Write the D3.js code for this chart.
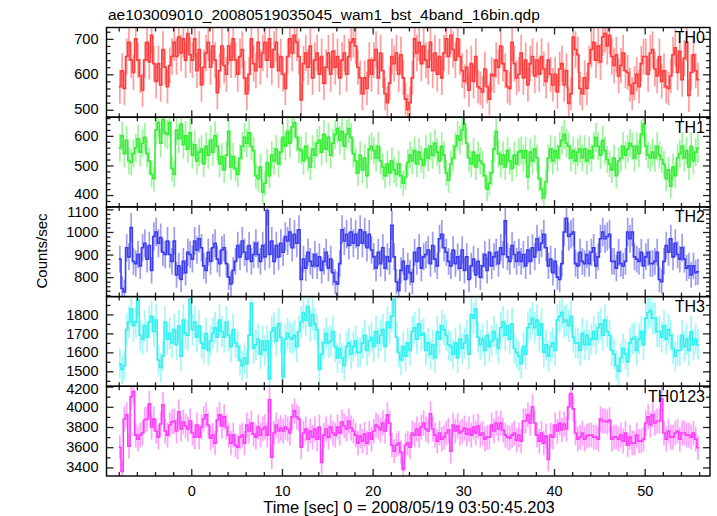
<!DOCTYPE html>
<html>
<head>
<meta charset="utf-8">
<script src="https://cdn.jsdelivr.net/npm/d3@7"></script>
<style>
  html, body { margin: 0; padding: 0; background: #fff; }
  svg { display: block; }
  text { font-family: "Liberation Sans", Arial, Helvetica, sans-serif; }
</style>
</head>
<body>
<svg id="chart" width="717" height="516"></svg>
<script>
// ---------------- DATA ----------------
const title = "ae103009010_20080519035045_wam1_bst_4band_16bin.qdp";
const xLabel = "Time [sec] 0 = 2008/05/19 03:50:45.203";
const yLabel = "Counts/sec";
const binSize = 0.25;      // s
const tStart = -8;         // s, start of first bin
const panelNames = ["TH0", "TH1", "TH2", "TH3", "TH0123"];
const xTicks = [0, 10, 20, 30, 40, 50];

const th0 = [
  565,610,560,650,690,640,605,700, 640,595,555,640,690,635,710,630,
  580,630,570,670,620,565,625,650, 690,650,705,660,700,640,715,655,
  640,700,610,670,570,620,660,690, 620,680,640,548,610,680,625,600,
  680,640,700,640,600,650,670,590, 545,600,700,630,610,690,620,660,
  690,640,700,620,670,690,610,650, 600,560,650,700,660,710,690,650,
  528,630,660,620,680,590,640,660, 600,650,575,620,660,600,665,620,
  650,590,640,660,600,650,690,700, 680,620,590,545,590,560,640,600,
  640,670,590,660,610,545,520,575, 650,630,660,600,655,590,530,500,
  520,590,700,660,690,630,680,640, 620,690,610,660,600,650,590,660,
  700,650,710,670,640,700,650,610, 580,620,555,630,580,650,565,560,
  550,615,565,530,600,595,640,620, 680,630,610,565,560,690,630,590,
  600,660,590,640,570,630,650,595, 640,600,650,615,580,640,600,570,
  600,550,615,630,570,610,518,545, 705,670,655,560,545,590,560,630,
  670,690,640,680,635,705,715,680, 710,650,625,655,595,625,660,610,
  605,570,545,575,600,565,630,650, 650,600,660,670,615,595,650,580,
  610,565,560,595,655,675,605,665, 585,645,690,540,605,655,610,585
];
const th1 = [
  560,600,540,585,515,510,540,560, 590,545,575,595,540,515,470,455,
  620,645,575,655,610,605,645,490, 470,620,590,640,570,600,555,610,
  535,570,515,545,555,505,565,535, 585,545,600,565,505,530,485,535,
  615,495,530,490,470,525,565,595, 575,610,565,550,465,455,495,410,
  440,510,465,535,515,555,505,545, 595,565,615,575,630,645,595,555,
  550,515,565,525,495,555,535,575, 585,545,605,555,595,535,575,605,
  625,585,615,565,605,625,595,540, 515,475,535,485,525,465,555,565,
  550,525,565,515,495,465,505,475, 515,485,470,505,465,440,460,510,
  535,515,550,505,545,520,500,555, 525,565,535,575,545,515,565,535,
  475,450,505,525,565,600,585,620, 640,575,525,505,545,495,535,515,
  505,465,420,440,475,555,615,540, 505,535,495,550,515,490,535,505,
  545,550,525,550,460,545,515,555, 525,455,420,390,445,525,555,515,
  550,525,565,585,605,575,565,525, 550,515,545,555,525,555,515,550,
  525,565,595,565,535,585,550,520, 505,485,525,465,515,525,565,535,
  555,575,565,525,565,540,605,640, 565,535,525,545,525,565,535,520,
  505,455,485,430,495,465,525,540, 565,525,550,495,565,515,545,558
];
const th2 = [
  880,750,735,930,890,1020,870,860, 900,850,930,950,880,940,830,980,
  1000,950,975,910,900,960,900,870, 960,810,850,790,870,820,910,900,
  880,960,920,970,930,850,830,910, 870,930,950,880,860,920,930,860,
  800,770,830,870,940,890,960,910, 880,940,870,900,950,900,870,940,
  890,1095,900,960,870,940,890,950, 910,980,960,1000,930,990,950,1010,
  790,880,840,910,870,850,900,850, 890,830,870,910,840,880,820,780,
  770,860,1010,960,990,940,1000,950, 990,940,1010,950,1000,930,990,920,
  890,840,910,860,930,840,890,870, 1030,890,780,740,830,870,790,850,
  820,780,910,870,930,840,890,900, 920,860,940,880,850,970,990,930,
  910,870,850,920,860,890,840,920, 830,890,790,850,880,810,870,800,
  850,900,830,910,850,890,910,860, 930,900,1050,890,870,940,900,870,
  910,870,900,850,920,870,930,890, 970,920,950,990,930,850,880,820,
  870,800,790,860,1000,1060,980,990, 1000,860,850,910,870,860,900,860,
  910,930,850,890,970,1000,970,980, 990,870,870,840,910,860,850,870,
  1000,970,1000,890,880,870,910,850, 890,910,860,860,870,910,790,780,
  870,940,910,970,890,950,900,880, 930,880,840,850,810,850,820,824
];
const th3 = [
  1540,1510,1530,1720,1760,1830,1740,1760, 1880,1690,1670,1740,1680,1760,1790,1710,
  1770,1560,1520,1580,1760,1670,1700,1650, 1720,1640,1740,1580,1770,1700,1690,1880,
  1720,1760,1680,1740,1650,1620,1700,1610, 1660,1700,1730,1680,1770,1710,1680,1760,
  1690,1630,1720,1650,1630,1560,1530,1570, 1540,1690,1860,1620,1640,1670,1590,1660,
  1610,1660,1460,1710,1730,1660,1750,1680, 1470,1670,1700,1680,1670,1690,1630,1710,
  1760,1810,1770,1840,1740,1800,1750,1720, 1510,1590,1650,1700,1650,1660,1710,1630,
  1570,1620,1570,1530,1630,1650,1590,1630, 1660,1600,1600,1650,1690,1610,1660,1680,
  1630,1710,1650,1690,1720,1630,1760,1730, 1790,1880,1680,1600,1560,1630,1580,1650,
  1610,1710,1730,1670,1750,1690,1700,1610, 1650,1590,1640,1570,1710,1670,1740,1720,
  1690,1640,1630,1590,1650,1570,1670,1620, 1650,1690,1590,1800,1780,1830,1680,1640,
  1670,1610,1690,1630,1660,1710,1670,1620, 1730,1760,1690,1740,1670,1750,1620,1600,
  1580,1540,1630,1590,1730,1750,1780,1730, 1770,1690,1750,1600,1640,1580,1630,1650,
  1610,1770,1790,1810,1760,1770,1740,1790, 1680,1650,1650,1610,1700,1640,1690,1640,
  1670,1710,1670,1730,1750,1690,1770,1710, 1690,1610,1590,1530,1500,1570,1620,1590,
  1550,1650,1670,1680,1610,1670,1710,1640, 1780,1810,1820,1780,1780,1710,1710,1680,
  1740,1670,1720,1690,1620,1580,1610,1610, 1690,1630,1670,1610,1710,1640,1670,1640
];
const th0123 = [
  3600,3360,3880,3920,3610,4100,4150,3720, 3680,3720,3740,3870,3880,4030,3800,3880,
  3760,3700,3830,4020,3760,3720,3820,3850, 3860,3760,3950,3780,3850,3810,3780,3860,
  3740,3700,3820,3700,3800,3880,3920,3820, 3690,3720,3640,3870,3920,3810,3900,3800,
  3720,3640,3720,3620,3600,3700,3720,3640, 3820,3760,3840,3730,3700,3800,3720,3780,
  3800,3720,4070,3500,3740,3820,3760,3790, 3760,3800,3780,3740,3900,3960,3900,3880,
  3600,3740,3780,3680,3760,3700,3780,3680, 3800,3450,3720,3780,3700,3800,3740,3720,
  3800,3740,3850,3810,3780,3860,3790,3760, 3720,3640,3710,3660,3730,3640,3740,3680,
  3760,3820,3800,3770,3840,3760,3920,3840, 3620,3560,3620,3640,3550,3380,3620,3640,
  3600,3740,3720,3780,3720,3800,3840,3780, 3760,3930,3780,3720,3660,3740,3680,3700,
  3740,3770,3560,3820,3760,3810,3740,3760, 3790,3730,3780,3720,3800,3740,3810,3720,
  3740,3680,3700,3700,3820,3760,3840,3780, 3840,3770,3720,3700,3690,3720,3740,3670,
  3720,3660,3860,3860,3920,3840,4000,3840, 3720,3660,3740,3640,3710,3480,3720,3700,
  3820,3760,3840,3770,3830,3780,4000,4130, 3980,3740,3680,3700,3740,3680,3710,3720,
  3720,3700,3700,3680,3880,3860,3860,3850, 3870,3680,3700,3700,3680,3720,3660,3740,
  3620,3700,3640,3640,3720,3660,3660,3680, 3840,3900,3820,3920,3840,3860,3860,4080,
  3740,3680,3760,3700,3700,3740,3760,3680, 3740,3740,3720,3720,3700,3740,3680,3595
];

const th0Ticks = [500, 600, 700];
const th1Ticks = [400, 500, 600];
const th2Ticks = [800, 900, 1000, 1100];
const th3Ticks = [1500, 1600, 1700, 1800];
const th0123Ticks = [3400, 3600, 3800, 4000, 4200];

// ---------------- LAYOUT / STYLE ----------------
const L = 106.5, R = 710, T = 27.5, B = 476;
const PH = (B - T) / 5;

const panels = [
  { name: panelNames[0], values: th0,    ticks: th0Ticks,    minor: 20,  domain: [479, 732],   color: "#ff3b3b", light: "#ff9c9c" },
  { name: panelNames[1], values: th1,    ticks: th1Ticks,    minor: 20,  domain: [360, 663],   color: "#33ee33", light: "#9cf59c" },
  { name: panelNames[2], values: th2,    ticks: th2Ticks,    minor: 20,  domain: [714, 1111],  color: "#3b3bf0", light: "#9c9cf2" },
  { name: panelNames[3], values: th3,    ticks: th3Ticks,    minor: 50,  domain: [1421, 1894], color: "#33f0f0", light: "#a0f7f7" },
  { name: panelNames[4], values: th0123, ticks: th0123Ticks, minor: 100, domain: [3315, 4203], color: "#ff3bff", light: "#ffa0ff" }
];

const svg = d3.select("#chart");
const x = d3.scaleLinear().domain([-9.35, 57.2]).range([L, R]);
const xMinor = d3.range(-8, 57, 2).filter(v => !xTicks.includes(v));

// title
svg.append("text").attr("x", 108).attr("y", 19.5)
  .attr("font-size", 15.5).attr("fill", "#000").text(title);

panels.forEach((p, i) => {
  const y0 = T + i * PH;
  const y = d3.scaleLinear().domain(p.domain).range([y0 + PH, y0]);
  const g = svg.append("g");
  const clipId = "clip" + i;
  svg.append("clipPath").attr("id", clipId)
    .append("rect").attr("x", L).attr("y", y0).attr("width", R - L).attr("height", PH);

  const data = p.values.map((v, k) => ({
    t: tStart + binSize * (k + 0.5),
    v: v,
    e: Math.sqrt(v * binSize) / binSize
  }));

  const plot = g.append("g").attr("clip-path", `url(#${clipId})`);
  // error bars
  plot.selectAll("line.err").data(data).join("line")
    .attr("class", "err")
    .attr("x1", d => x(d.t)).attr("x2", d => x(d.t))
    .attr("y1", d => y(d.v - d.e)).attr("y2", d => y(d.v + d.e))
    .attr("stroke", p.light).attr("stroke-width", 1.7);

  // step line
  const pts = [[tStart, data[0].v]].concat(data.map(d => [d.t, d.v]))
    .concat([[tStart + binSize * data.length, data[data.length - 1].v]]);
  const line = d3.line().x(d => x(d[0])).y(d => y(d[1])).curve(d3.curveStep);
  plot.append("path").attr("d", line(pts))
    .attr("fill", "none").attr("stroke", p.color).attr("stroke-width", 1.6);

  // axes
  const minorY = d3.range(Math.ceil(p.domain[0] / p.minor) * p.minor, p.domain[1], p.minor)
    .filter(v => !p.ticks.includes(v));
  const styleAxis = sel => {
    sel.select(".domain").remove();
    sel.selectAll(".tick line").attr("stroke", "#222").attr("stroke-width", 1.3);
    sel.selectAll(".tick text").attr("font-size", 14.5).attr("fill", "#000")
      .attr("font-family", "'Liberation Sans', Arial, sans-serif");
  };
  const leftMajor = g.append("g").attr("transform", `translate(${L},0)`)
    .call(d3.axisLeft(y).tickValues(p.ticks).tickSize(-7).tickPadding(8).tickFormat(d3.format("d"))).call(styleAxis);
  // keep labels that sit right on a panel edge from touching the neighbour's labels
  leftMajor.selectAll(".tick text").attr("y", d => {
    const py = y(d);
    if (py - y0 < 6) return 2;
    if (y0 + PH - py < 14) return -1;
    return 0;
  });
  g.append("g").attr("transform", `translate(${L},0)`)
    .call(d3.axisLeft(y).tickValues(minorY).tickSize(-4).tickFormat("")).call(styleAxis);
  g.append("g").attr("transform", `translate(${R},0)`)
    .call(d3.axisRight(y).tickValues(p.ticks).tickSize(-7).tickFormat("")).call(styleAxis);
  g.append("g").attr("transform", `translate(${R},0)`)
    .call(d3.axisRight(y).tickValues(minorY).tickSize(-4).tickFormat("")).call(styleAxis);
  g.append("g").attr("transform", `translate(0,${y0})`)
    .call(d3.axisTop(x).tickValues(xTicks).tickSize(-7).tickFormat("")).call(styleAxis);
  g.append("g").attr("transform", `translate(0,${y0})`)
    .call(d3.axisTop(x).tickValues(xMinor).tickSize(-4).tickFormat("")).call(styleAxis);
  const isLast = i === panels.length - 1;
  g.append("g").attr("transform", `translate(0,${y0 + PH})`)
    .call(d3.axisBottom(x).tickValues(xTicks).tickSize(-7).tickPadding(10)
      .tickFormat(isLast ? d3.format("d") : "")).call(styleAxis);
  g.append("g").attr("transform", `translate(0,${y0 + PH})`)
    .call(d3.axisBottom(x).tickValues(xMinor).tickSize(-4).tickFormat("")).call(styleAxis);

  // frame
  g.append("rect").attr("x", L).attr("y", y0).attr("width", R - L).attr("height", PH)
    .attr("fill", "none").attr("stroke", "#000").attr("stroke-width", 1.4);

  // panel label
  g.append("text").attr("x", 705).attr("y", y0 + 15.5)
    .attr("text-anchor", "end").attr("font-size", 16).attr("fill", "#000").text(p.name);
});

// axis labels
svg.append("text").attr("x", 409).attr("y", 513)
  .attr("text-anchor", "middle").attr("font-size", 16.5).attr("fill", "#000").text(xLabel);
svg.append("text").attr("transform", "translate(47,251) rotate(-90)")
  .attr("text-anchor", "middle").attr("font-size", 15).attr("fill", "#000").text(yLabel);
</script>
</body>
</html>
